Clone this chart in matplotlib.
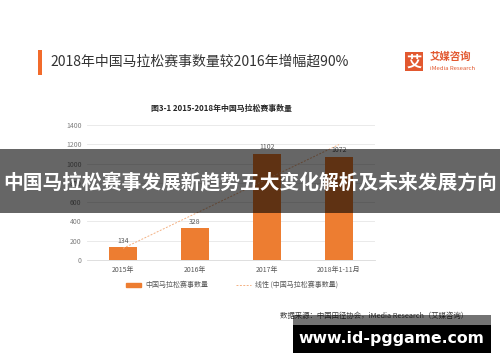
import matplotlib
matplotlib.use("Agg")
import matplotlib.pyplot as plt
import numpy as np
from matplotlib.patches import Rectangle
from matplotlib.lines import Line2D

plt.rcParams['font.family'] = ['Noto Sans CJK SC', 'DejaVu Sans']

categories = ["2015年", "2016年", "2017年", "2018年1-11月"]
values = [134, 328, 1102, 1072]
yticks = [0, 200, 400, 600, 800, 1000, 1200, 1400]

W, H = 500, 362
fig = plt.figure(figsize=(W/100, H/100), dpi=100)
fig.patch.set_facecolor("white")

def fx(x): return x / W
def fy(y): return 1 - y / H

ax = fig.add_axes([fx(87), fy(260), 288/W, (260-125)/H])
x = np.arange(len(categories))
orange = "#ED7D31"
ax.bar(x, values, width=0.4, color=orange, zorder=2)
coef = np.polyfit(x, values, 1)
ax.plot(x, np.polyval(coef, x), color="#F4B183", lw=0.7, ls=(0, (2, 1.5)), zorder=3)
for xi, v in zip(x, values):
    ax.text(xi, v + 25, str(v), ha="center", va="bottom", fontsize=5, color="#595959")
ax.set_xlim(-0.5, 3.5)
ax.set_ylim(0, 1400)
ax.set_yticks(yticks)
ax.set_yticklabels([str(t) for t in yticks], fontsize=5, color="#7f7f7f")
ax.set_xticks(x)
ax.set_xticklabels(categories, fontsize=5, color="#595959")
ax.tick_params(length=0, pad=4)
ax.grid(axis="y", color="#e6e6e6", lw=0.6, zorder=0)
for s in ["top", "right", "left"]:
    ax.spines[s].set_visible(False)
ax.spines["bottom"].set_color("#d9d9d9")
ax.spines["bottom"].set_linewidth(0.6)
ax.set_facecolor("none")

handles = [Rectangle((0, 0), 1, 1, color=orange),
           Line2D([0], [0], color="#F4B183", lw=0.7, ls=(0, (2, 1.5)))]
fig.legend(handles, ["中国马拉松赛事数量", "线性 (中国马拉松赛事数量)"],
           loc="center", bbox_to_anchor=(fx(232), fy(285)), ncol=2, frameon=False,
           fontsize=5, labelcolor="#595959", handlelength=2.2, handleheight=0.5,
           columnspacing=4, handletextpad=0.6)

# Header
fig.patches.append(Rectangle((fx(38), fy(75)), 4/W, 25/H, transform=fig.transFigure,
                             facecolor="#F26B2B", lw=0))
fig.text(fx(50), fy(62), "2018年中国马拉松赛事数量较2016年增幅超90%", fontsize=10,
         color="#333333", va="center", ha="left")
fig.patches.append(Rectangle((fx(405), fy(71)), 18/W, 19/H, transform=fig.transFigure,
                             facecolor="#E2582F", lw=0))
fig.text(fx(414), fy(61.5), "艾", fontsize=11, color="white", ha="center", va="center",
         fontweight="bold")
fig.text(fx(430), fy(57), "艾媒咨询", fontsize=7.5, color="#E2582F", ha="left", va="center",
         fontweight="bold")
fig.text(fx(430), fy(68), "iMedia Research", fontsize=4.3, color="#E2582F", ha="left",
         va="center")

fig.text(fx(221), fy(108), "图3-1 2015-2018年中国马拉松赛事数量", fontsize=5.7,
         color="#262626", ha="center", va="center", fontweight="bold")

fig.text(fx(374), fy(316), "数据来源：中国田径协会，iMedia Research（艾媒咨询）", fontsize=5.3,
         color="#404040", ha="center", va="center")

# Overlay band
fig.patches.append(Rectangle((0, fy(213)), 1, (213-149)/H, transform=fig.transFigure,
                             facecolor="black", alpha=0.6, lw=0, zorder=10))
fig.text(0.5, fy(183), "中国马拉松赛事发展新趋势五大变化解析及未来发展方向", fontsize=14.2,
         color="white", ha="center", va="center", fontweight="bold", zorder=11)

# Watermark
fig.patches.append(Rectangle((fx(293), fy(325)), (491-293)/W, 10/H, transform=fig.transFigure,
                             facecolor="black", alpha=0.55, lw=0, zorder=10))
fig.patches.append(Rectangle((fx(293), fy(353)), (491-293)/W, 28/H, transform=fig.transFigure,
                             facecolor="black", lw=0, zorder=10))
fig.text(fx(391), fy(339), "www.id-pggame.com", fontsize=11.3, color="white", ha="center",
         va="center", fontweight="bold", family="DejaVu Sans", zorder=11)

fig.savefig("out.png", dpi=100)
